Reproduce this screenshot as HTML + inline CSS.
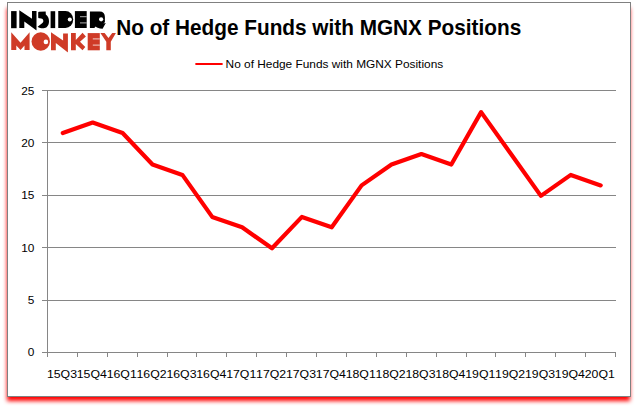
<!DOCTYPE html>
<html><head><meta charset="utf-8">
<style>
html,body{margin:0;padding:0;background:#fff;width:637px;height:408px;overflow:hidden}
#sh{position:absolute;left:7px;top:8px;width:623px;height:393px;background:#f00;filter:blur(2px)}
#box{position:absolute;left:7px;top:2px;width:622px;height:393px;border:1px solid #808080;background:#fff}
svg{position:absolute;left:0;top:0}
text{font-family:"Liberation Sans",sans-serif}
</style></head><body>
<div id="sh"></div><div id="box"></div>
<svg width="637" height="408" viewBox="0 0 637 408">
<!-- gridlines -->
<g stroke="#868686" stroke-width="1" fill="none" shape-rendering="crispEdges">
<path d="M42 90.5H615.5M42 142.5H615.5M42 195.5H615.5M42 247.5H615.5M42 300.5H615.5M42 352.5H615.5"/>
<path d="M47.5 90V357"/>
<path d="M77.5 352V357M107.5 352V357M137.5 352V357M167.5 352V357M196.5 352V357M226.5 352V357M256.5 352V357M286.5 352V357M316.5 352V357M346.5 352V357M376.5 352V357M406.5 352V357M436.5 352V357M466.5 352V357M495.5 352V357M525.5 352V357M555.5 352V357M585.5 352V357M615.5 352V357"/>
</g>
<!-- data line -->
<polyline transform="translate(0.3,0.7)" fill="none" stroke="#ff0000" stroke-width="4.2" stroke-linejoin="round" stroke-linecap="round"
 points="62.5,132.3 92.4,121.8 122.3,132.3 152.2,163.8 182.1,174.2 211.9,216.2 241.8,226.6 271.7,247.6 301.6,216.2 331.4,226.6 361.3,184.7 391.2,163.8 421.1,153.3 451.0,163.8 480.8,111.4 510.7,153.3 540.6,195.2 570.5,174.2 600.4,184.7"/>
<!-- title -->
<text x="116.2" y="35" font-size="21.8" font-weight="bold" fill="#000" textLength="405" lengthAdjust="spacingAndGlyphs">No of Hedge Funds with MGNX Positions</text>
<!-- legend -->
<line x1="196.2" y1="64" x2="221.8" y2="64" stroke="#ff0000" stroke-width="2.2" stroke-linecap="round"/>
<text x="225.6" y="68" font-size="11.6" fill="#000" textLength="217.6" lengthAdjust="spacingAndGlyphs">No of Hedge Funds with MGNX Positions</text>
<!-- y labels -->
<g font-size="11.5" fill="#000">
<text x="21.2" y="95" textLength="13.2" lengthAdjust="spacingAndGlyphs">25</text>
<text x="21.2" y="147" textLength="13.2" lengthAdjust="spacingAndGlyphs">20</text>
<text x="21.2" y="199" textLength="13.2" lengthAdjust="spacingAndGlyphs">15</text>
<text x="21.2" y="252" textLength="13.2" lengthAdjust="spacingAndGlyphs">10</text>
<text x="27.8" y="304" textLength="6.6" lengthAdjust="spacingAndGlyphs">5</text>
<text x="27.8" y="356" textLength="6.6" lengthAdjust="spacingAndGlyphs">0</text>
</g>
<!-- x labels -->
<g font-size="11.5" fill="#000">
<text x="46.90" y="378" textLength="30.1" lengthAdjust="spacingAndGlyphs">15Q3</text>
<text x="76.78" y="378" textLength="30.1" lengthAdjust="spacingAndGlyphs">15Q4</text>
<text x="106.66" y="378" textLength="30.1" lengthAdjust="spacingAndGlyphs">16Q1</text>
<text x="136.54" y="378" textLength="30.1" lengthAdjust="spacingAndGlyphs">16Q2</text>
<text x="166.42" y="378" textLength="30.1" lengthAdjust="spacingAndGlyphs">16Q3</text>
<text x="196.29" y="378" textLength="30.1" lengthAdjust="spacingAndGlyphs">16Q4</text>
<text x="226.17" y="378" textLength="30.1" lengthAdjust="spacingAndGlyphs">17Q1</text>
<text x="256.05" y="378" textLength="30.1" lengthAdjust="spacingAndGlyphs">17Q2</text>
<text x="285.93" y="378" textLength="30.1" lengthAdjust="spacingAndGlyphs">17Q3</text>
<text x="315.81" y="378" textLength="30.1" lengthAdjust="spacingAndGlyphs">17Q4</text>
<text x="345.69" y="378" textLength="30.1" lengthAdjust="spacingAndGlyphs">18Q1</text>
<text x="375.57" y="378" textLength="30.1" lengthAdjust="spacingAndGlyphs">18Q2</text>
<text x="405.45" y="378" textLength="30.1" lengthAdjust="spacingAndGlyphs">18Q3</text>
<text x="435.33" y="378" textLength="30.1" lengthAdjust="spacingAndGlyphs">18Q4</text>
<text x="465.21" y="378" textLength="30.1" lengthAdjust="spacingAndGlyphs">19Q1</text>
<text x="495.08" y="378" textLength="30.1" lengthAdjust="spacingAndGlyphs">19Q2</text>
<text x="524.96" y="378" textLength="30.1" lengthAdjust="spacingAndGlyphs">19Q3</text>
<text x="554.84" y="378" textLength="30.1" lengthAdjust="spacingAndGlyphs">19Q4</text>
<text x="584.72" y="378" textLength="30.1" lengthAdjust="spacingAndGlyphs">20Q1</text>
</g>
<!-- logo -->
<g fill="#000">
<rect x="11.1" y="11.1" width="5.5" height="17.1"/>
<path d="M19.3,10.3 L32,18.7 L32,11.1 L36.5,11.1 L36.5,30.3 L36.2,30.3 L24.3,21.5 L24.3,28.1 L19.3,28.1 Z"/>
<path d="M38.2,12.4 Q38.3,11.8 39,11.8 L45.7,11.4 L45.8,14.5 C47.8,15.8 49,18.2 49,21.3 C49,25.6 46.6,28.2 43.5,28.3 C41.3,28.4 39.2,27.7 37.6,26.7 L41.8,23.6 C43.2,22.6 43.6,21.3 43.2,20.2 C42.8,19 41.7,18.4 39.8,18.3 L39,18.2 Q38.2,18 38.2,17.2 Z"/>
<rect x="50.6" y="11.2" width="4.6" height="16.9"/>
<path d="M58.25,11.1 H65.5 A7.7,8.45 0 0 1 65.5,28 H58.25 Z"/>
<rect x="74.9" y="11.1" width="11.8" height="16.9"/>
<path d="M89.9,11.4 H99.6 Q104.9,11.4 104.9,17 V22.1 Q104.7,23 103.3,23.4 L105.8,23.1 L104.8,24.8 L102.6,28.8 L100,28.5 L96.9,27.4 L95.7,26.5 L94.3,27.9 L92,28.1 H89.9 Z"/>
</g>
<g fill="#fff">
<circle cx="69.8" cy="19.55" r="2.05"/>
<circle cx="101.1" cy="19.3" r="2.1"/>
</g>
<g stroke="#fff" stroke-width="1.2" stroke-opacity="0.55">
<path d="M80,16.7H86.7M80,22.9H86.7"/>
</g>
<g fill="#CF3B27">
<path d="M11.25,32.25 V50 H16.3 V45.5 L20.55,50 L24.5,45.5 V50 H29.6 V32.25 L20.55,42.7 Z"/>
<circle cx="40.75" cy="41.55" r="9.2"/>
<path d="M51,32.25 L63.1,40.4 V33.4 H67.9 V52.3 H67.6 L55.8,43 V50.3 H51 Z"/>
<path d="M71,33.1 H75.8 V39.9 L82.5,32.8 L85.9,36.5 L80,41.8 L85.3,46.9 L82.5,50.2 L75.8,44.1 V50.3 H71 Z"/>
<rect x="87.7" y="33.1" width="12.1" height="17.2"/>
<path d="M100.4,33.1 H104.6 L108.5,37.9 L112.2,33.1 H115.9 L110.8,41.8 V50.3 H106.3 V41.8 Z"/>
</g>
<circle cx="45.9" cy="41.9" r="2.3" fill="#fff"/>
<g stroke="#fff" stroke-width="1.4" stroke-opacity="0.6">
<path d="M92.8,38.9H99.8M92.8,45.1H99.8"/>
</g>
</svg>
</body></html>
